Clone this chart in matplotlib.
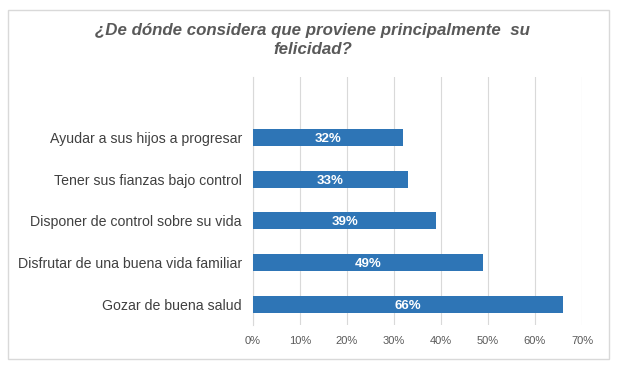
import matplotlib.pyplot as plt
from matplotlib.patches import Rectangle

plt.rcParams['font.family'] = ['Liberation Sans', 'DejaVu Sans']

categorias = ["Gozar de buena salud",
              "Disfrutar de una buena vida familiar",
              "Disponer de control sobre su vida",
              "Tener sus fianzas bajo control",
              "Ayudar a sus hijos a progresar"]
valores = [66, 49, 39, 33, 32]
ticks = [0, 10, 20, 30, 40, 50, 60, 70]

fig = plt.figure(figsize=(6.22, 3.74), dpi=100)
fig.patches.append(Rectangle((8 / 622, 1 - 359 / 374), 601 / 622, 349 / 374,
                             transform=fig.transFigure, fill=False,
                             edgecolor="#d9d9d9", linewidth=1))

ax = fig.add_axes([253 / 622, 1 - 325 / 374, 329 / 622, 248 / 374])
y = list(range(len(categorias)))
ax.barh(y, valores, height=0.41, color="#2e75b6", zorder=3)
for yi, v in zip(y, valores):
    ax.text(v / 2, yi, f"{v}%", ha="center", va="center_baseline", color="white",
            fontsize=9.5, fontweight="bold", zorder=4)

ax.set_xlim(0, 70)
ax.set_ylim(-0.5, 5.45)
ax.set_xticks(ticks)
ax.set_xticklabels([f"{t}%" for t in ticks], fontsize=8, color="#595959")
ax.set_yticks(y)
ax.set_yticklabels(categorias, fontsize=10.2, color="#404040")
ax.grid(axis="x", color="#d9d9d9", linewidth=0.8, zorder=0)
for s in ["top", "right", "bottom"]:
    ax.spines[s].set_visible(False)
ax.spines["left"].set_color("#d9d9d9")
ax.tick_params(axis="both", length=0, pad=8)

fig.text(0.503, 1 - 40 / 374, "¿De dónde considera que proviene principalmente  su\nfelicidad?",
         ha="center", va="center", fontsize=12.2, fontstyle="italic",
         fontweight="bold", color="#595959", linespacing=1.3)

fig.savefig("out.png", dpi=100)
